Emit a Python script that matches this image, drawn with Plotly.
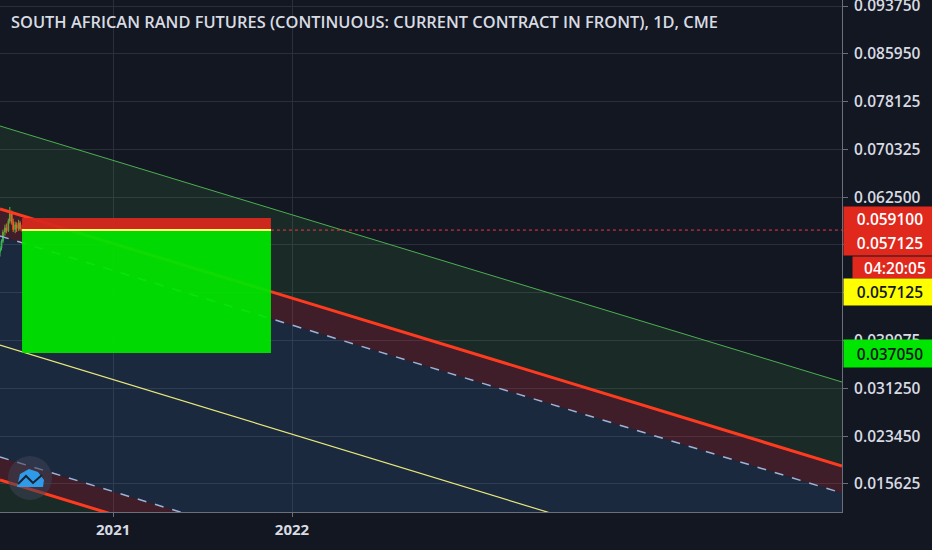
import plotly.graph_objects as go

# Price candles at the far left (CME rand futures, USD per ZAR).
candle_dates = ["2020-05-15", "2020-05-18", "2020-05-21", "2020-05-25", "2020-05-28",
                "2020-06-01", "2020-06-04", "2020-06-08", "2020-06-11", "2020-06-15",
                "2020-06-18", "2020-06-22", "2020-06-25", "2020-06-29"]
candle_open = [0.0535, 0.0542, 0.0553, 0.0568, 0.0575, 0.0570, 0.0586, 0.0598, 0.0584,
               0.0572, 0.0580, 0.0574, 0.0583, 0.0573]
candle_high = [0.0545, 0.0556, 0.0572, 0.0580, 0.0582, 0.0590, 0.0609, 0.0603, 0.0590,
               0.0585, 0.0584, 0.0588, 0.0586, 0.0580]
candle_low = [0.0528, 0.0538, 0.0550, 0.0562, 0.0566, 0.0568, 0.0582, 0.0580, 0.0568,
              0.0566, 0.0568, 0.0570, 0.0570, 0.0568]
candle_close = [0.0542, 0.0553, 0.0568, 0.0575, 0.0570, 0.0586, 0.0598, 0.0584, 0.0572,
                0.0580, 0.0574, 0.0583, 0.0573, 0.0571]

# Parallel channel, values at the left and right edge of the chart.
channel_dates = ["2020-05-15", "2025-01-27 12:00"]
green_upper = [0.074136, 0.032292]
red_upper = [0.060569, 0.018562]
dash_upper = [0.056156, 0.014149]
median = [0.038340, -0.003668]
dash_lower = [0.020033, -0.021974]
red_lower = [0.016274, -0.025735]
green_lower = [0.002544, -0.039625]

# Short position tool.
box_dates = ["2020-06-29", "2021-11-19"]
stop_price = 0.0591
entry_price = 0.057125
target_price = 0.03705
countdown = "04:20:05"

tick_vals = [0.09375, 0.08595, 0.078125, 0.070325, 0.0625, 0.0547, 0.046875,
             0.039075, 0.03125, 0.02345, 0.015625]
# labels for 0.0547 and 0.046875 sit under the price tags, so they stay blank
tick_text = ["0.093750", "0.085950", "0.078125", "0.070325", "0.062500", "", "",
             "0.039075", "0.031250", "0.023450", "0.015625"]
year_ticks = ["2021-01-01", "2022-01-01"]
year_labels = ["2021", "2022"]

BG = "#131722"
GRID = "#2b2f3b"
TXT = "#d8dbe2"
FONT = "Open Sans"

fig = go.Figure()

# channel fills, bottom to top
fills = [
    (green_lower, None),
    (red_lower, "rgba(76,175,80,0.13)"),
    (dash_lower, "rgba(242,54,69,0.20)"),
    (dash_upper, "rgba(70,130,200,0.17)"),
    (red_upper, "rgba(242,54,69,0.20)"),
    (green_upper, "rgba(76,175,80,0.13)"),
]
for vals, col in fills:
    fig.add_trace(go.Scatter(
        x=channel_dates, y=vals, mode="lines", line=dict(width=0),
        fill="tonexty" if col else None, fillcolor=col,
        hoverinfo="skip", showlegend=False))

# channel lines
lines = [
    (green_upper, dict(color="#4caf50", width=1)),
    (red_upper, dict(color="#ff3b1f", width=3)),
    (dash_upper, dict(color="#9db4d8", width=1.5, dash="dash")),
    (median, dict(color="#e8e87a", width=1.2)),
    (dash_lower, dict(color="#9db4d8", width=1.5, dash="dash")),
    (red_lower, dict(color="#ff3b1f", width=3)),
    (green_lower, dict(color="#4caf50", width=1)),
]
for vals, ln in lines:
    fig.add_trace(go.Scatter(x=channel_dates, y=vals, mode="lines", line=ln,
                             hoverinfo="skip", showlegend=False))

fig.add_trace(go.Candlestick(
    x=candle_dates, open=candle_open, high=candle_high, low=candle_low, close=candle_close,
    increasing=dict(line=dict(color="#3cc43c", width=1), fillcolor="#3cc43c"),
    decreasing=dict(line=dict(color="#f0701e", width=1), fillcolor="#f0701e"),
    showlegend=False))

# last price dotted line
fig.add_trace(go.Scatter(x=[box_dates[1], channel_dates[1]], y=[entry_price, entry_price],
                         mode="lines", line=dict(color="#f23645", width=1, dash="dot"),
                         hoverinfo="skip", showlegend=False))

# position boxes
fig.add_shape(type="rect", x0=box_dates[0], x1=box_dates[1], y0=entry_price, y1=stop_price,
              fillcolor="rgba(214,40,28,0.95)", line_width=0, layer="above")
fig.add_shape(type="rect", x0=box_dates[0], x1=box_dates[1], y0=target_price, y1=entry_price,
              fillcolor="rgba(0,228,0,0.94)", line_width=0, layer="above")
fig.add_shape(type="line", x0=box_dates[0], x1=box_dates[1], y0=entry_price, y1=entry_price,
              line=dict(color="#ffff70", width=2), layer="above")

# watermark logo bottom left
fig.add_shape(type="circle", xref="paper", yref="paper",
              x0=8 / 842, x1=52 / 842, y0=1 - 500 / 512, y1=1 - 456 / 512,
              fillcolor="rgba(60,66,84,0.55)", line_width=0, layer="above")
fig.add_shape(type="path", xref="paper", yref="paper",
              path="M %f %f L %f %f L %f %f L %f %f L %f %f L %f %f Z" % (
                  17 / 842, 1 - 487 / 512, 20 / 842, 1 - 474 / 512, 29 / 842, 1 - 469 / 512,
                  38 / 842, 1 - 472 / 512, 44 / 842, 1 - 480 / 512, 43 / 842, 1 - 487 / 512),
              fillcolor="#2f9be8", line_width=0, layer="above")
fig.add_shape(type="path", xref="paper", yref="paper",
              path="M %f %f L %f %f L %f %f L %f %f" % (
                  18 / 842, 1 - 484 / 512, 26 / 842, 1 - 476 / 512, 33 / 842, 1 - 483 / 512,
                  42 / 842, 1 - 475 / 512),
              line=dict(color="#1b2230", width=2), layer="above")

# right axis price labels
labels = [
    ("%.6f" % stop_price, 219, 24, "#e0281d", "white", 1, 92),
    ("%.6f" % entry_price, 243, 24, "#e0281d", "white", 1, 92),
    (countdown, 267.5, 21, "#e0281d", "white", 10, 84),
    ("%.6f" % entry_price, 292, 26, "#ffff00", "#131722", 1, 92),
    ("%.6f" % target_price, 353.5, 27, "#00e600", "#131722", 1, 92),
]
for txt, py, h, bg, fc, dx, w in labels:
    fig.add_annotation(xref="paper", yref="paper", x=1 + dx / 842, y=1 - py / 512,
                       xanchor="left", yanchor="middle", text=txt, showarrow=False,
                       width=w, height=h, bgcolor=bg, borderpad=0, align="center",
                       font=dict(family=FONT, size=15.5, color=fc, weight=600))

fig.update_layout(
    width=932, height=550,
    margin=dict(l=0, r=90, t=0, b=38),
    paper_bgcolor=BG, plot_bgcolor=BG,
    showlegend=False,
    title=dict(text="SOUTH AFRICAN RAND FUTURES (CONTINUOUS: CURRENT CONTRACT IN FRONT), 1D, CME",
               x=11 / 932, xanchor="left", y=1 - 22 / 550, yanchor="middle",
               font=dict(family=FONT, size=16.4, color=TXT, weight=600)),
    xaxis=dict(range=[channel_dates[0], channel_dates[1]], type="date",
               tickvals=year_ticks, ticktext=year_labels,
               showgrid=True, gridcolor=GRID, zeroline=False,
               showline=True, linecolor="#6b6f7b", linewidth=1,
               ticks="outside", ticklen=4, tickcolor="#6b6f7b",
               tickfont=dict(family=FONT, size=15, color=TXT, weight=700),
               rangeslider=dict(visible=False), fixedrange=True, automargin=False),
    yaxis=dict(range=[0.011043, 0.094731], side="right",
               tickvals=tick_vals, ticktext=tick_text,
               showgrid=True, gridcolor=GRID, zeroline=False,
               showline=True, linecolor="#6b6f7b", linewidth=1,
               ticks="outside", ticklen=5, tickcolor="#6b6f7b",
               ticklabelstandoff=3,
               tickfont=dict(family=FONT, size=15.5, color=TXT, weight=600),
               ticklabeloverflow="allow", fixedrange=True, automargin=False),
)

fig.write_html("out.html", config={"displayModeBar": False},
               post_script="document.body.style.margin='0';")
